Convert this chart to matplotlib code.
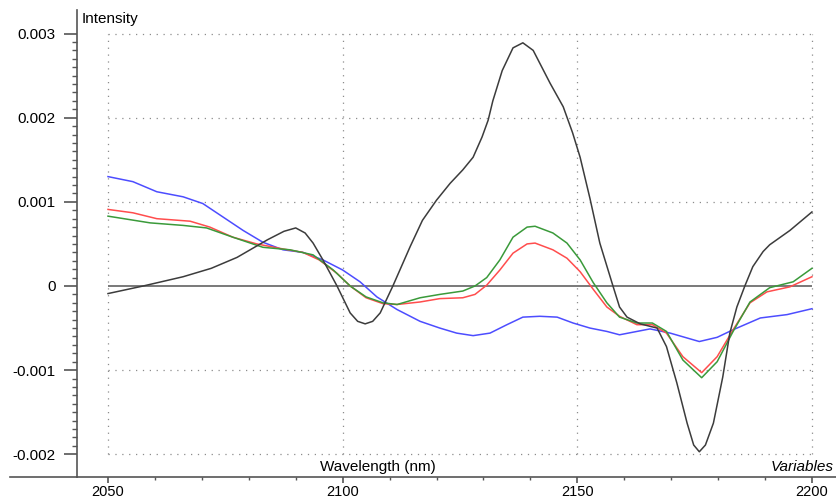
import numpy as np
import matplotlib.pyplot as plt
from matplotlib.lines import Line2D
from matplotlib.ticker import MultipleLocator, FixedLocator, FuncFormatter

plt.rcParams['font.family'] = ['Liberation Sans', 'DejaVu Sans']

black_wl = [2050, 2057.5, 2066, 2072, 2077.5, 2084, 2087.5, 2090, 2092, 2093.7, 2095.8, 2098.8,
            2101.6, 2103.2, 2104.8, 2106.4, 2108, 2110.7, 2114.4, 2117, 2120, 2122.9, 2125.6, 2127.8,
            2129.7, 2131, 2132, 2134, 2136.3, 2138.4, 2140.6, 2144.2, 2147, 2149,
            2150.6, 2152.7, 2154.8, 2157.6, 2159, 2160.6, 2163.4, 2167, 2169, 2171.2,
            2173.4, 2174.8, 2176, 2177.3, 2179, 2181, 2182.5, 2184, 2185.7, 2187.4, 2189.6, 2191,
            2195.3, 2200]
black_int = [-0.00009, 0.0, 0.00011, 0.00021, 0.00034, 0.00055, 0.00065, 0.00069, 0.00063, 0.00051, 0.00031, 0.0,
             -0.00032, -0.00042, -0.00045, -0.00042, -0.00032, 0.0, 0.00047, 0.00078, 0.00102, 0.00122, 0.00138, 0.00153,
             0.00177, 0.00197, 0.0022, 0.00256, 0.00283, 0.00289, 0.0028, 0.00241, 0.00213, 0.00182,
             0.00153, 0.00104, 0.00051, 0.0, -0.00025, -0.00037, -0.00045, -0.0005, -0.00072, -0.00115,
             -0.00163, -0.00189, -0.00197, -0.00189, -0.00163, -0.00108, -0.00056, -0.00025, 0.0, 0.00023, 0.00041, 0.00049,
             0.00066, 0.00088]

red_wl = [2050, 2055.3, 2060.4, 2067.5, 2071.7, 2076.6, 2081.7, 2087.3, 2091.5, 2095,
          2098.8, 2101.6, 2105, 2108.6, 2111.6, 2116.5, 2120.7, 2125.6, 2128.2, 2130.7,
          2133.5, 2136.3, 2139.3, 2141, 2144.8, 2147.8, 2150.6, 2153.4, 2156.3, 2159,
          2162.7, 2166, 2169, 2172.5, 2176.5, 2179.8, 2183.2, 2186.8, 2190.4, 2195.3, 2200]
red_int = [0.00091, 0.00087, 0.0008, 0.00077, 0.0007, 0.00058, 0.0005, 0.00044, 0.0004, 0.00031,
           0.00015, 0.0, -0.00014, -0.00021, -0.00022, -0.00019, -0.00015, -0.00014, -0.0001, 0.00001,
           0.00019, 0.00039, 0.0005, 0.00051, 0.00043, 0.00033, 0.00017, -0.00004, -0.00025, -0.00036,
           -0.00046, -0.00046, -0.00056, -0.00084, -0.00103, -0.00084, -0.00052, -0.0002, -0.00007, -0.00001, 0.00011]

green_wl = [2050, 2059, 2066, 2071, 2076.6, 2083, 2088.8, 2093.7, 2098, 2101.6,
            2105, 2108.6, 2111.6, 2116.5, 2120.7, 2125.6, 2128.2, 2130.7, 2133.5, 2136.3,
            2139.3, 2141, 2144.8, 2147.8, 2150.6, 2153.4, 2156.3, 2159, 2162.7, 2166,
            2169, 2172.5, 2176.5, 2179.8, 2183.2, 2186.8, 2191, 2196, 2200]
green_int = [0.00083, 0.00075, 0.00072, 0.00069, 0.00058, 0.00046, 0.00043, 0.00037, 0.00019, 0.0,
             -0.00013, -0.0002, -0.00022, -0.00014, -0.0001, -0.00006, 0.0, 0.0001, 0.00031, 0.00058,
             0.0007, 0.00071, 0.00063, 0.00051, 0.00031, 0.00004, -0.0002, -0.00037, -0.00044, -0.00044,
             -0.00054, -0.00088, -0.00109, -0.0009, -0.00054, -0.00019, -0.00002, 0.00005, 0.00021]

blue_wl = [2050, 2055.3, 2060.4, 2066, 2070.2, 2074.5, 2078.8, 2083, 2087.3, 2091.5,
           2095.8, 2100, 2103.7, 2107.3, 2111.6, 2116.5, 2120.7, 2124.3, 2127.8, 2131.4,
           2135, 2138.4, 2142, 2145.7, 2149.1, 2152.7, 2156.3, 2159, 2165.5, 2169.8,
           2176, 2179.8, 2183.2, 2189, 2194.7, 2200]
blue_int = [0.0013, 0.00124, 0.00112, 0.00106, 0.00098, 0.00082, 0.00066, 0.00052, 0.00043, 0.0004,
            0.00031, 0.00019, 0.00005, -0.00013, -0.00028, -0.00042, -0.0005, -0.00056, -0.00059, -0.00056,
            -0.00046, -0.00037, -0.00036, -0.00037, -0.00044, -0.0005, -0.00054, -0.00058, -0.00051, -0.00056,
            -0.00066, -0.00061, -0.00052, -0.00038, -0.00034, -0.00027]

x_major = [2050, 2100, 2150, 2200]
y_major = [-0.002, -0.001, 0.0, 0.001, 0.002, 0.003]

W, H = 837, 498
fig = plt.figure(figsize=(W/100, H/100), dpi=100)
ax = fig.add_axes([77/W, 21/H, 1 - 77/W, (477 - 10)/H])

axcol = '#555555'
grid_dots = (0, (1, 4.5))

# dotted grid box, zero line drawn solid
ax.vlines(x_major, -0.002, 0.003, colors='#8c8c8c', linestyles=[grid_dots], linewidth=0.9)
ax.hlines([v for v in y_major if v != 0], 2050, 2200, colors='#8c8c8c',
          linestyles=[grid_dots], linewidth=0.9)
ax.hlines(0, 2050, 2200, colors='#555555', linewidth=1.1)

ax.plot(blue_wl, blue_int, color='#4d4dff', linewidth=1.1)
ax.plot(red_wl, red_int, color='#ff4d4d', linewidth=1.1)
ax.plot(green_wl, green_int, color='#3a9a3a', linewidth=1.1)
ax.plot(black_wl, black_int, color='#3c3c3c', linewidth=1.1)

ax.set_xlim(2050 - 31/4.693, 2050 + (W - 108)/4.693)
ax.set_ylim(-0.00227, 0.00328)

for s in ['top', 'right']:
    ax.spines[s].set_visible(False)
for s in ['left', 'bottom']:
    ax.spines[s].set_color(axcol)
    ax.spines[s].set_linewidth(1.2)

ax.xaxis.set_major_locator(FixedLocator(x_major))
ax.xaxis.set_minor_locator(MultipleLocator(10))
ax.yaxis.set_major_locator(FixedLocator(y_major))
ax.yaxis.set_minor_locator(FixedLocator(np.arange(-20, 31) * 1e-4))
ax.yaxis.set_major_formatter(FuncFormatter(lambda v, p: '0' if abs(v) < 1e-9 else '%.3f' % v))

ax.tick_params(axis='y', which='major', length=9.5, width=1.2, color=axcol, pad=6, labelsize=11)
ax.tick_params(axis='y', which='minor', length=3.8, width=1.0, color=axcol)
ax.tick_params(axis='x', which='major', length=4, width=1.2, color=axcol, pad=1.5, labelsize=10.5)
ax.tick_params(axis='x', which='minor', length=2.2, width=1.0, color=axcol)

# x axis line runs on a little past the y axis
fig.add_artist(Line2D([10/W, 77/W], [21/H, 21/H], color=axcol, linewidth=1.2))

fig.text(82/W, 1 - 19/H, 'Intensity', fontsize=11, va='center', ha='left')
fig.text(378/W, 1 - 467/H, 'Wavelength (nm)', fontsize=11, va='center', ha='center')
fig.text(834/W, 1 - 467/H, 'Variables', fontsize=11, va='center', ha='right', style='italic')

fig.savefig('out.png', dpi=100)
